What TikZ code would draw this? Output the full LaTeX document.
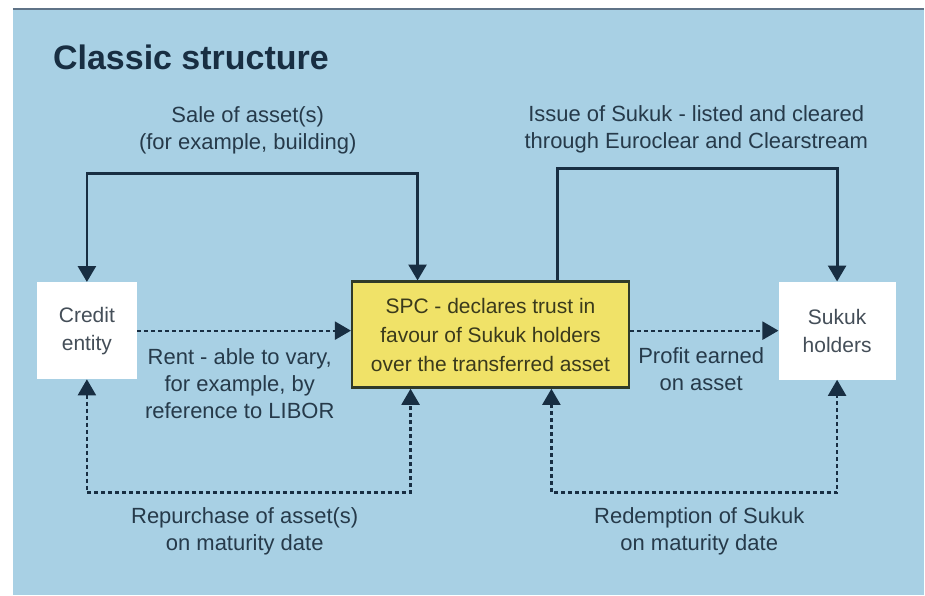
\documentclass[tikz,border=0pt]{standalone}
\usepackage{fontspec}
\setmainfont{Liberation Sans}
\usetikzlibrary{arrows.meta,positioning,calc}

\definecolor{panelblue}{RGB}{168,208,228}
\definecolor{rulegray}{RGB}{95,115,135}
\definecolor{flowink}{RGB}{24,46,66}
\definecolor{labelink}{RGB}{38,58,74}
\definecolor{partyink}{RGB}{68,78,88}
\definecolor{trustfill}{RGB}{240,226,104}
\definecolor{trustedge}{RGB}{48,58,40}
\definecolor{trustink}{RGB}{58,58,28}

\begin{document}
\begin{tikzpicture}[x=1pt, y=-1pt, >={Triangle[length=16pt,width=18pt]}]
        \tikzset{
            party/.style={fill=white, rectangle, minimum width=100pt, minimum height=97pt, align=center, text=partyink, font=\fontsize{21}{28}\selectfont},
            trust/.style={draw=trustedge, fill=trustfill, rectangle, line width=2.4pt, minimum width=277pt, minimum height=106pt, align=center, text=trustink, font=\fontsize{21}{29}\selectfont},
            caption/.style={align=center, text=labelink, font=\fontsize{22}{27}\selectfont, inner sep=0pt},
            flow/.style={draw=flowink, line width=2.8pt},
            cash/.style={draw=flowink, line width=2.2pt, dash pattern=on 4pt off 3pt}
        }

        % Panel
        \fill[white] (0,0) rectangle (925,596);
        \fill[panelblue] (13,9) rectangle (925,596);
        \draw[rulegray, line width=2pt] (13,9) -- (925,9);
        \node[anchor=base west, inner sep=0pt, text=flowink, font=\fontsize{34}{40}\selectfont\bfseries] (title) at (53,70) {Classic structure};

        % Parties
        \node [party] (credit) at (87,331) {Credit\\entity};
        \node [trust] (spc) at (491,335) {SPC - declares trust in\\favour of Sukuk holders\\over the transferred asset};
        \node [party, minimum width=117pt, minimum height=98pt] (sukuk) at (838,331) {Sukuk\\holders};

        % Asset and Sukuk issue
        \draw [flow, <->] (credit.north) -- ++(0,-109) -| ([xshift=-73pt]spc.north);
        \draw [flow, ->] ([xshift=67pt]spc.north) -- ++(0,-112) -| (sukuk.north);
        \node [caption] (sale) at (248,130) {Sale of asset(s)\\(for example, building)};
        \node [caption] (issue) at (697,129) {Issue of Sukuk - listed and cleared\\through Euroclear and Clearstream};

        % Periodic payments
        \draw [cash, ->] (credit.east) -- (credit.east -| spc.west);
        \draw [cash, ->] (spc.east |- sukuk.west) -- (sukuk.west);
        \node [caption] (rent) at (240,384) {Rent - able to vary,\\for example, by\\reference to LIBOR};
        \node [caption] (profit) at (702,370) {Profit earned\\on asset};

        % Maturity
        \coordinate (maturity) at (0,493);
        \draw [cash, <->] (credit.south) -- (credit.south |- maturity) -| ([xshift=-80pt]spc.south);
        \draw [cash, <->] ([xshift=61pt]spc.south) -- ([xshift=61pt]spc.south |- maturity) -| (sukuk.south);
        \node [caption] (repurchase) at (245,532) {Repurchase of asset(s)\\on maturity date};
        \node [caption] (redemption) at (700,532) {Redemption of Sukuk\\on maturity date};

        \useasboundingbox (0,0) rectangle (925,596);
\end{tikzpicture}
\end{document}
